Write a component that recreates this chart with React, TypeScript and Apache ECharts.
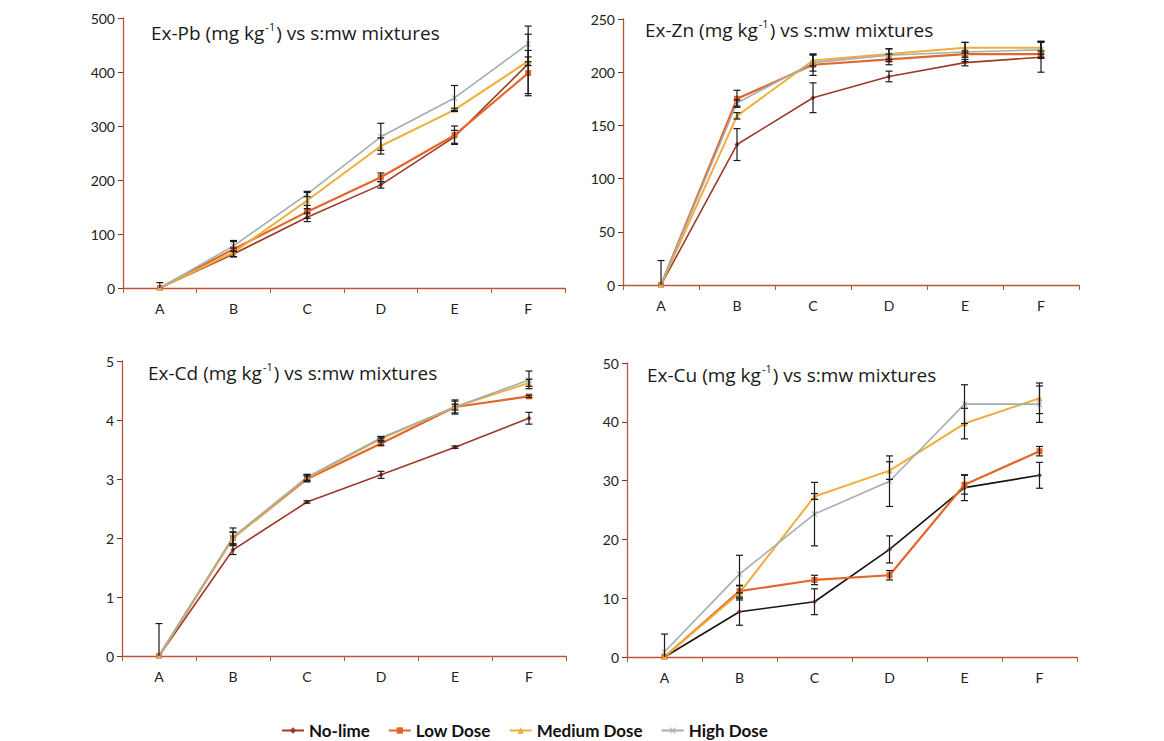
import React, { useEffect, useRef } from "react";
import * as echarts from "echarts";

const categories = ["A", "B", "C", "D", "E", "F"];
const seriesNames = ["No-lime", "Low Dose", "Medium Dose", "High Dose"];

// Ex-Pb
const pbNoLime = [0, 63, 131, 191, 280, 415];
const pbLow = [0, 72, 141, 205, 283, 398];
const pbMedium = [0, 66, 162, 263, 330, 420];
const pbHigh = [0, 78, 174, 280, 352, 452];
const pbNoLimeErr = [10, 5, 8, 6, 12, 55];
const pbLowErr = [0, 14, 12, 8, 17, 42];
const pbMediumErr = [0, 8, 15, 15, 3, 8];
const pbHighErr = [0, 10, 5, 25, 23, 33];

// Ex-Zn
const znNoLime = [0, 132, 176, 196, 209, 214];
const znLow = [0, 175, 207, 212, 217, 217];
const znMedium = [0, 159, 211, 217, 223, 223];
const znHigh = [0, 171, 209, 216, 219, 221];
const znNoLimeErr = [23, 15, 14, 5, 3, 14];
const znLowErr = [0, 8, 10, 5, 3, 3];
const znMediumErr = [0, 3, 5, 5, 5, 6];
const znHighErr = [0, 3, 8, 6, 9, 8];

// Ex-Cd
const cdNoLime = [0, 1.8, 2.61, 3.07, 3.54, 4.03];
const cdLow = [0, 2.0, 3.0, 3.6, 4.22, 4.4];
const cdMedium = [0, 2.0, 3.02, 3.68, 4.22, 4.63];
const cdHigh = [0, 2.02, 3.03, 3.7, 4.22, 4.68];
const cdNoLimeErr = [0.55, 0.08, 0.02, 0.06, 0.02, 0.1];
const cdLowErr = [0, 0.1, 0.05, 0.03, 0.05, 0.02];
const cdMediumErr = [0, 0.1, 0.05, 0.03, 0.1, 0.06];
const cdHighErr = [0, 0.15, 0.05, 0.02, 0.12, 0.15];

// Ex-Cu
const cuNoLime = [0, 7.7, 9.4, 18.3, 28.8, 30.9];
const cuLow = [0, 11.2, 13.1, 13.9, 29.3, 35.0];
const cuMedium = [0, 10.9, 27.3, 31.7, 39.7, 44.0];
const cuHigh = [0.9, 14.1, 24.3, 29.9, 43.0, 43.0];
const cuNoLimeErr = [0, 2.3, 2.2, 2.3, 2.2, 2.2];
const cuLowErr = [0, 1.0, 0.8, 0.8, 1.6, 0.8];
const cuMediumErr = [0, 1.2, 0.5, 1.5, 2.6, 2.6];
const cuHighErr = [3, 3.2, 5.4, 4.3, 3.3, 3.1];

const xPath = "path://M0 1L1 0L5 4L9 0L10 1L6 5L10 9L9 10L5 6L1 10L0 9L4 5Z";

const styles = [
  { color: "#9E3A27", symbol: "diamond", size: 5, width: 1.6 },
  { color: "#E2672C", symbol: "rect", size: 6, width: 2.2 },
  { color: "#EFAE3C", symbol: "triangle", size: 6, width: 2 },
  { color: "#A5AEAA", symbol: xPath, size: 6, width: 1.6 },
];

const panels = [
  {
    metal: "Ex-Pb",
    grid: { left: 123, top: 18, width: 442, height: 270 },
    max: 500,
    interval: 100,
    values: [pbNoLime, pbLow, pbMedium, pbHigh],
    errs: [pbNoLimeErr, pbLowErr, pbMediumErr, pbHighErr],
    titlePos: { left: 151, top: 21 },
  },
  {
    metal: "Ex-Zn",
    grid: { left: 623, top: 19, width: 456, height: 266 },
    max: 250,
    interval: 50,
    values: [znNoLime, znLow, znMedium, znHigh],
    errs: [znNoLimeErr, znLowErr, znMediumErr, znHighErr],
    titlePos: { left: 645, top: 18 },
  },
  {
    metal: "Ex-Cd",
    grid: { left: 122, top: 361, width: 444, height: 295 },
    max: 5,
    interval: 1,
    values: [cdNoLime, cdLow, cdMedium, cdHigh],
    errs: [cdNoLimeErr, cdLowErr, cdMediumErr, cdHighErr],
    titlePos: { left: 148, top: 361 },
  },
  {
    metal: "Ex-Cu",
    grid: { left: 627, top: 363, width: 450, height: 294 },
    max: 50,
    interval: 10,
    values: [cuNoLime, cuLow, cuMedium, cuHigh],
    errs: [cuNoLimeErr, cuLowErr, cuMediumErr, cuHighErr],
    titlePos: { left: 647, top: 363 },
  },
];

const axisColor = "#B8553A";
const font = "Lato";
const titleFont = "Open Sans";

function buildOption() {
  const grids: any[] = [];
  const xAxes: any[] = [];
  const yAxes: any[] = [];
  const titles: any[] = [];
  const series: any[] = [];

  panels.forEach((p, i) => {
    grids.push({ ...p.grid, containLabel: false });
    xAxes.push({
      gridIndex: i,
      type: "category",
      data: categories,
      boundaryGap: true,
      axisLine: { lineStyle: { color: axisColor, width: 1.3 } },
      axisTick: { show: true, length: 5, lineStyle: { color: axisColor } },
      axisLabel: { color: "#222", fontSize: 14, margin: 13, fontFamily: font },
    });
    yAxes.push({
      gridIndex: i,
      type: "value",
      min: 0,
      max: p.max,
      interval: p.interval,
      splitLine: { show: false },
      axisLine: { show: true, lineStyle: { color: axisColor, width: 1.3 } },
      axisTick: { show: true, length: 5, lineStyle: { color: "#6b3a2e" } },
      axisLabel: { color: "#222", fontSize: 14, margin: 8, fontFamily: font },
    });
    titles.push({
      left: p.titlePos.left,
      top: p.titlePos.top,
      padding: 0,
      text: `{a|${p.metal} (mg kg}{s|-1}{a|) vs s:mw mixtures}`,
      textStyle: {
        fontWeight: "normal",
        fontFamily: titleFont,
        rich: {
          a: { fontSize: 19, fontFamily: titleFont, fontWeight: "normal", color: "#1a1a1a", lineHeight: 24 },
          s: { fontSize: 11, fontFamily: titleFont, fontWeight: "normal", color: "#1a1a1a", lineHeight: 24, verticalAlign: "top", padding: [0, 1, 0, 1] },
        },
      },
    });
    p.values.forEach((vals, k) => {
      const st = styles[k];
      const lineColor = i === 3 && k === 0 ? "#151515" : st.color;
      series.push({
        name: seriesNames[k],
        type: "line",
        xAxisIndex: i,
        yAxisIndex: i,
        data: vals,
        symbol: st.symbol,
        symbolSize: st.size,
        showSymbol: true,
        lineStyle: { color: lineColor, width: st.width },
        itemStyle: { color: st.color },
        z: 2,
      });
      const errs = p.errs[k];
      const errData = vals
        .map((v, j) => [j, Math.max(0, v - errs[j]), v + errs[j], errs[j]])
        .filter((d) => d[3] > 0);
      series.push({
        type: "custom",
        xAxisIndex: i,
        yAxisIndex: i,
        silent: true,
        z: 4,
        encode: { x: 0, y: [1, 2] },
        data: errData,
        renderItem: (params: any, api: any) => {
          const lo = api.coord([api.value(0), api.value(1)]);
          const hi = api.coord([api.value(0), api.value(2)]);
          const w = 3.5;
          const s = { stroke: "#1a1a1a", lineWidth: 1.2 };
          const children: any[] = [
            { type: "line", shape: { x1: lo[0], y1: lo[1], x2: hi[0], y2: hi[1] }, style: s },
            { type: "line", shape: { x1: hi[0] - w, y1: hi[1], x2: hi[0] + w, y2: hi[1] }, style: s },
          ];
          if (api.value(1) > 0) {
            children.push({ type: "line", shape: { x1: lo[0] - w, y1: lo[1], x2: lo[0] + w, y2: lo[1] }, style: s });
          }
          return { type: "group", children };
        },
      });
    });
  });

  return {
    animation: false,
    backgroundColor: "#ffffff",
    textStyle: { fontFamily: font },
    title: titles,
    grid: grids,
    xAxis: xAxes,
    yAxis: yAxes,
    legend: {
      data: seriesNames,
      left: 276,
      top: 717,
      itemWidth: 22,
      itemHeight: 8,
      itemGap: 18,
      textStyle: { fontSize: 17, fontWeight: "bold", color: "#111", fontFamily: font },
    },
    series,
  };
}

export default function App() {
  const ref = useRef<HTMLDivElement>(null);
  useEffect(() => {
    if (!ref.current) return;
    const chart = echarts.init(ref.current, undefined, { renderer: "svg" });
    chart.setOption(buildOption() as any);
    return () => chart.dispose();
  }, []);
  return (
    <div
      ref={ref}
      style={{ position: "absolute", left: 0, top: 0, width: 1164, height: 741, background: "#fff" }}
    />
  );
}
